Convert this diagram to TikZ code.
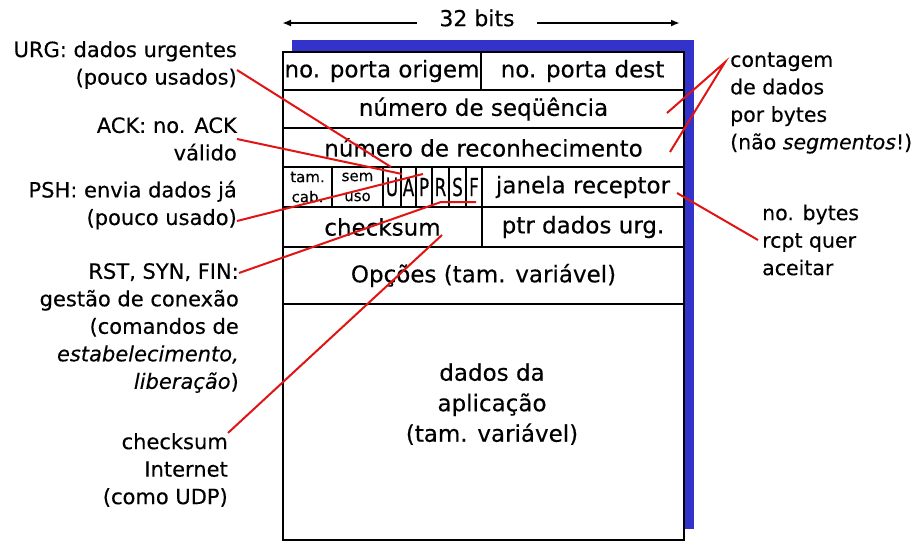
\documentclass[tikz,border=0pt]{standalone}
\usepackage{fontspec}
\setmainfont{DejaVu Sans}[FakeBold=0.3]
\usetikzlibrary{positioning,arrows.meta}
\definecolor{shadowblue}{RGB}{51,51,204}
\definecolor{linkred}{RGB}{225,20,20}
\newcommand{\narrow}[1]{\scalebox{0.68}[1]{#1}}
\tikzset{
  cell/.style={draw, line width=2.2pt, fill=white, inner sep=0pt, align=center, font=\fontsize{23}{26}\selectfont},
  flag/.style={cell, font=\fontsize{25}{26}\selectfont},
  small/.style={cell, font=\fontsize{15}{20}\selectfont},
  note/.style={inner sep=0pt, align=right, font=\fontsize{21}{27.5}\selectfont},
  rnote/.style={note, align=left, font=\fontsize{20.5}{27.5}\selectfont},
  link/.style={draw=linkred, line width=2pt},
}

\begin{document}
\begin{tikzpicture}[x=1pt,y=-1pt]
\useasboundingbox (0,0) rectangle (916,544);

\node[font=\fontsize{22}{26}\selectfont, inner xsep=22pt, inner ysep=0pt] (bits) at (477,18) {32 bits};
\coordinate (bitsL) at (282,23);
\coordinate (bitsR) at (680,23);
\draw[line width=2pt, -{Latex[length=9pt,width=7pt]}] (bits.west |- bitsL) -- (bitsL);
\draw[line width=2pt, -{Latex[length=9pt,width=7pt]}] (bits.east |- bitsR) -- (bitsR);

\fill[shadowblue] (292,40) rectangle (694,529);

\node[cell, minimum width=198pt, minimum height=38pt] (sport) at (382,71) {no. porta origem};
\node[cell, minimum width=203pt, minimum height=38pt] (dport) at (582.5,71) {no. porta dest};
\node[cell, minimum width=401pt, minimum height=38pt] (seq) at (483.5,109) {número de seqüência};
\node[cell, minimum width=401pt, minimum height=39pt] (ackno) at (483.5,147.5) {número de reconhecimento};

\node[small, minimum width=49pt, minimum height=40pt] (hlen) at (307.5,187) {tam.\\cab.};
\node[small, minimum width=51pt, minimum height=40pt] (unused) at (357.5,187) {sem\\uso};
\node[flag, minimum width=18pt, minimum height=40pt] (U) at (392,187) {\narrow{U}};
\node[flag, minimum width=15pt, minimum height=40pt] (A) at (408.5,187) {\narrow{A}};
\node[flag, minimum width=16pt, minimum height=40pt] (P) at (424,187) {\narrow{P}};
\node[flag, minimum width=17pt, minimum height=40pt] (R) at (440.5,187) {\narrow{R}};
\node[flag, minimum width=17pt, minimum height=40pt] (S) at (457.5,187) {\narrow{S}};
\node[flag, minimum width=16pt, minimum height=40pt] (F) at (474,187) {\narrow{F}};
\node[cell, minimum width=202pt, minimum height=40pt] (rwnd) at (583,187) {janela receptor};

\node[cell, minimum width=199pt, minimum height=40pt] (csum) at (382.5,227) {checksum};
\node[cell, minimum width=202pt, minimum height=40pt] (urgp) at (583,227) {ptr dados urg.};
\node[cell, minimum width=401pt, minimum height=57pt] (opts) at (483.5,275.5) {Opções (tam. variável)};
\node[cell, minimum width=401pt, minimum height=236pt] (data) at (483.5,422) {};
\node[font=\fontsize{23}{30.5}\selectfont, align=center, inner sep=0pt] (datatxt) at (492,404) {dados da\\aplicação\\(tam. variável)};

\node[note, anchor=east] (urg) at (237,65) {URG: dados urgentes\\(pouco usados)};
\node[note, anchor=east] (ack) at (237,139) {ACK: no. ACK\\válido};
\node[note, anchor=east] (psh) at (237,205) {PSH: envia dados já\\(pouco usado)};
\node[note, anchor=east] (rst) at (239,328) {RST, SYN, FIN:\\gestão de conexão\\(comandos de\\\textit{estabelecimento,}\\\textit{liberação})};
\node[note, anchor=east] (csi) at (228,470) {checksum\\Internet\\(como UDP)};
\node[rnote, anchor=west] (count) at (730,103) {contagem\\de dados\\por bytes\\(não \textit{segmentos}!)};
\node[rnote, anchor=west] (rcpt) at (762,240) {no. bytes\\rcpt quer\\aceitar};

\coordinate (urgtip) at (391,167);
\coordinate (acktip) at (402,174);
\coordinate (pshtip) at (423,174);
\coordinate (rstbend) at (441,202);
\coordinate (rsttip) at (476,202);
\coordinate (csumtip) at (442,235);
\coordinate (seqtip) at (667,113);
\coordinate (acknotip) at (670,152);
\coordinate (rwndtip) at (677,193);

\draw[link] ([yshift=-5pt]urg.east) -- (urgtip);
\draw[link] (ack.east) -- (acktip);
\draw[link] ([yshift=-16pt]psh.east) -- (pshtip);
\draw[link] ([yshift=-10pt]rst.north east) -- (rstbend) -- (rsttip);
\draw[link] (csi.north east) -- (csumtip);
\draw[link] (seqtip) -- ([shift={(-5pt,-10pt)}]count.north west) -- (acknotip);
\draw[link] ([xshift=-4pt]rcpt.west) -- (rwndtip);
\end{tikzpicture}
\end{document}
